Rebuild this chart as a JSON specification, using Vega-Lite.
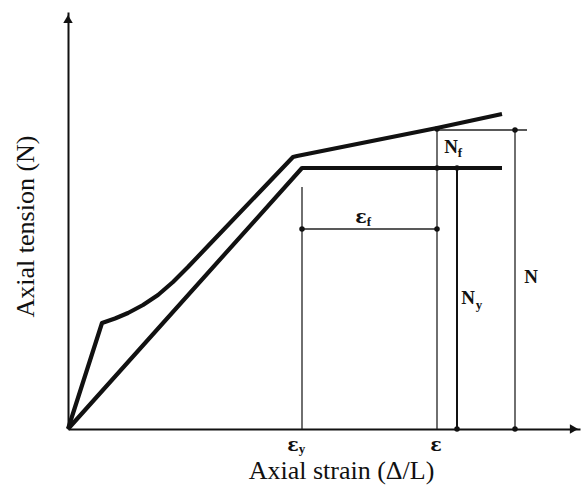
{
  "$schema": "https://vega.github.io/schema/vega-lite/v6.json",
  "width": 512,
  "height": 417,
  "autosize": "none",
  "padding": {"left": 68, "top": 12, "right": 1, "bottom": 61},
  "background": "white",
  "config": {"view": {"stroke": null}, "font": "Liberation Serif"},
  "datasets": {
    "curves": [
      {"series": "with concrete", "strain": 0, "tension": 0},
      {"series": "with concrete", "strain": 34, "tension": 106},
      {"series": "with concrete", "strain": 47, "tension": 110.5},
      {"series": "with concrete", "strain": 60, "tension": 116},
      {"series": "with concrete", "strain": 75, "tension": 124},
      {"series": "with concrete", "strain": 90, "tension": 134},
      {"series": "with concrete", "strain": 105, "tension": 147},
      {"series": "with concrete", "strain": 120, "tension": 162},
      {"series": "with concrete", "strain": 140, "tension": 183},
      {"series": "with concrete", "strain": 225, "tension": 272},
      {"series": "with concrete", "strain": 229, "tension": 273},
      {"series": "with concrete", "strain": 369, "tension": 301},
      {"series": "with concrete", "strain": 434, "tension": 315},
      {"series": "bare bar", "strain": 0, "tension": 0},
      {"series": "bare bar", "strain": 234, "tension": 261},
      {"series": "bare bar", "strain": 434, "tension": 261}
    ],
    "rules": [
      {"name": "ey", "x": 234, "x2": 234, "y": 0, "y2": 242},
      {"name": "e", "x": 369, "x2": 369, "y": 0, "y2": 301},
      {"name": "ef", "x": 234, "x2": 369, "y": 200, "y2": 200},
      {"name": "Ntop", "x": 369, "x2": 459, "y": 299, "y2": 299},
      {"name": "N", "x": 447, "x2": 447, "y": 0, "y2": 299}
    ],
    "ruleNy": [
      {"name": "Ny", "x": 389, "x2": 389, "y": 0, "y2": 261}
    ],
    "dots": [
      {"x": 369, "y": 300},
      {"x": 369, "y": 261},
      {"x": 389, "y": 261},
      {"x": 447, "y": 299},
      {"x": 234, "y": 200},
      {"x": 369, "y": 200},
      {"x": 389, "y": 0},
      {"x": 447, "y": 0}
    ],
    "labels": [
      {"x": 383, "y": 282, "text": "N"},
      {"x": 400, "y": 131, "text": "N"},
      {"x": 463, "y": 152, "text": "N"}
    ],
    "greek": [
      {"x": 293, "y": 212, "text": "ε"},
      {"x": 225, "y": -16, "text": "ε"},
      {"x": 368, "y": -16, "text": "ε"}
    ],
    "subs": [
      {"x": 392, "y": 276, "text": "f"},
      {"x": 301, "y": 207, "text": "f"},
      {"x": 411, "y": 124, "text": "y"},
      {"x": 234, "y": -20, "text": "y"}
    ],
    "arrows": [
      {"x": 506, "y": 0, "dir": "x"},
      {"x": 0, "y": 410, "dir": "y"}
    ]
  },
  "layer": [
    {
      "data": {"name": "curves"},
      "mark": {"type": "line", "color": "#111", "strokeWidth": 4.2, "strokeJoin": "round", "clip": false},
      "encoding": {
        "x": {"field": "strain", "type": "quantitative", "scale": {"domain": [0, 512], "nice": false, "zero": false},
          "axis": {"title": "Axial strain (Δ/L)", "ticks": false, "labels": false, "grid": false, "domainColor": "#111", "domainWidth": 2,
            "titleFont": "Liberation Serif", "titleFontSize": 26, "titleFontWeight": "normal", "titleColor": "#111",
            "titleX": 273, "titleY": 41, "titleBaseline": "middle", "titleAlign": "center"}},
        "y": {"field": "tension", "type": "quantitative", "scale": {"domain": [0, 417], "nice": false, "zero": false},
          "axis": {"title": "Axial tension (N)", "ticks": false, "labels": false, "grid": false, "domainColor": "#111", "domainWidth": 2,
            "titleFont": "Liberation Serif", "titleFontSize": 26, "titleFontWeight": "normal", "titleColor": "#111",
            "titleX": -43, "titleY": 214, "titleAngle": -90, "titleBaseline": "middle", "titleAlign": "center"}},
        "detail": {"field": "series"}
      }
    },
    {
      "data": {"name": "rules"},
      "mark": {"type": "rule", "color": "#222", "strokeWidth": 1.3},
      "encoding": {
        "x": {"field": "x", "type": "quantitative"},
        "x2": {"field": "x2"},
        "y": {"field": "y", "type": "quantitative"},
        "y2": {"field": "y2"}
      }
    },
    {
      "data": {"name": "ruleNy"},
      "mark": {"type": "rule", "color": "#111", "strokeWidth": 2},
      "encoding": {
        "x": {"field": "x", "type": "quantitative"},
        "x2": {"field": "x2"},
        "y": {"field": "y", "type": "quantitative"},
        "y2": {"field": "y2"}
      }
    },
    {
      "data": {"name": "dots"},
      "mark": {"type": "point", "filled": true, "color": "#111", "size": 30, "opacity": 1, "clip": false},
      "encoding": {
        "x": {"field": "x", "type": "quantitative"},
        "y": {"field": "y", "type": "quantitative"}
      }
    },
    {
      "data": {"name": "arrows"},
      "transform": [{"filter": "datum.dir == 'x'"}],
      "mark": {"type": "point", "filled": true, "color": "#111", "shape": "triangle-right", "size": 90, "opacity": 1, "clip": false},
      "encoding": {
        "x": {"field": "x", "type": "quantitative"},
        "y": {"field": "y", "type": "quantitative"}
      }
    },
    {
      "data": {"name": "arrows"},
      "transform": [{"filter": "datum.dir == 'y'"}],
      "mark": {"type": "point", "filled": true, "color": "#111", "shape": "triangle-up", "size": 90, "opacity": 1, "clip": false},
      "encoding": {
        "x": {"field": "x", "type": "quantitative"},
        "y": {"field": "y", "type": "quantitative"}
      }
    },
    {
      "data": {"name": "labels"},
      "mark": {"type": "text", "font": "Liberation Serif", "fontSize": 19, "fontWeight": "bold", "color": "#111", "align": "center", "baseline": "middle", "clip": false},
      "encoding": {
        "x": {"field": "x", "type": "quantitative"},
        "y": {"field": "y", "type": "quantitative"},
        "text": {"field": "text"}
      }
    },
    {
      "data": {"name": "greek"},
      "mark": {"type": "text", "font": "DejaVu Serif", "fontSize": 19, "fontWeight": "bold", "color": "#111", "align": "center", "baseline": "middle", "clip": false},
      "encoding": {
        "x": {"field": "x", "type": "quantitative"},
        "y": {"field": "y", "type": "quantitative"},
        "text": {"field": "text"}
      }
    },
    {
      "data": {"name": "subs"},
      "mark": {"type": "text", "font": "Liberation Serif", "fontSize": 13, "fontWeight": "bold", "color": "#111", "align": "center", "baseline": "middle", "clip": false},
      "encoding": {
        "x": {"field": "x", "type": "quantitative"},
        "y": {"field": "y", "type": "quantitative"},
        "text": {"field": "text"}
      }
    }
  ]
}
